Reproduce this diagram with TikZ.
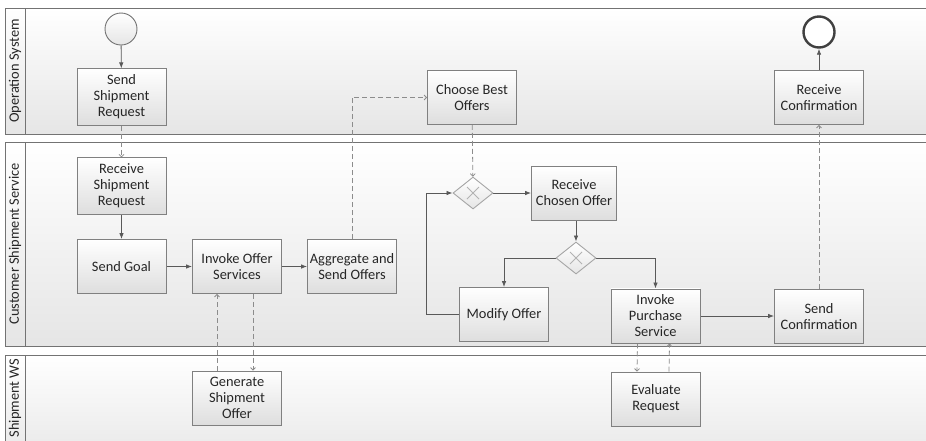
\documentclass[tikz,border=0pt]{standalone}
\usepackage{fontspec}
\setmainfont{Carlito}
\usepackage{tikz}
\pgfdeclarelayer{lanelayer}
\pgfdeclarelayer{nodelayer}
\pgfdeclarelayer{edgelayer}
\pgfsetlayers{lanelayer,edgelayer,nodelayer,main}
\usetikzlibrary{arrows.meta,shapes.geometric}

\tikzset{
	task/.style={draw=black!50, line width=0.8pt, top color=white, bottom color=black!13,
		minimum width=89pt, minimum height=54pt, inner xsep=2pt, inner ysep=6pt,
		align=center, text=black!85, font=\fontsize{14.4}{16}\selectfont},
	gate/.style={diamond, draw=black!35, line width=0.9pt, top color=white, bottom color=black!10,
		minimum width=40pt, minimum height=32pt, inner sep=0pt,
		path picture={\draw[black!30, line width=0.8pt]
			([shift={(-6pt,-6pt)}]path picture bounding box.center) -- ([shift={(6pt,6pt)}]path picture bounding box.center)
			([shift={(-6pt,6pt)}]path picture bounding box.center) -- ([shift={(6pt,-6pt)}]path picture bounding box.center);}},
	flow/.style={-{Latex[length=6pt,width=4.5pt]}, draw=black!65, line width=0.8pt},
	msg/.style={-{Straight Barb[length=2.5pt,width=5pt]}, draw=black!45, line width=0.8pt, dash pattern=on 5pt off 3pt},
	lane/.style={draw=black!55, line width=0.8pt, top color=white, bottom color=black!10},
	lanelabel/.style={rotate=90, text=black!85, font=\fontsize{14.4}{16}\selectfont}
}

\begin{document}
\begin{tikzpicture}[x=1pt, y=-1pt]
	\useasboundingbox (0, 0) rectangle (926, 440);
	\clip (0, 0) rectangle (926, 440);
	\begin{pgfonlayer}{lanelayer}
		\fill [white] (0, 0) rectangle (926, 440);
		\draw [lane] (5, 8) rectangle (940, 134);
		\draw [lane] (5, 142) rectangle (940, 346);
		\draw [lane] (5, 355) rectangle (940, 470);
		\draw [draw=black!55, line width=0.8pt] (25, 8) to (25, 134);
		\draw [draw=black!55, line width=0.8pt] (25, 142) to (25, 346);
		\draw [draw=black!55, line width=0.8pt] (25, 355) to (25, 470);
		\node [lanelabel] (20) at (15, 71) {Operation System};
		\node [lanelabel] (21) at (15, 244) {Customer Shipment Service};
		\node [lanelabel] (22) at (15, 398) {Shipment WS};
	\end{pgfonlayer}
	\begin{pgfonlayer}{nodelayer}
		\node [circle, draw=black!55, line width=0.9pt, top color=white, bottom color=black!10, minimum size=32pt, inner sep=0pt] (0) at (121, 29) {};
		\node [task] (1) at (121.5, 97) {Send\\Shipment\\Request};
		\node [task] (2) at (121.5, 186) {Receive\\Shipment\\Request};
		\node [task] (3) at (121.5, 266.5) {Send Goal};
		\node [task] (4) at (237, 266.5) {Invoke Offer\\Services};
		\node [task] (5) at (352, 266.5) {Aggregate and\\Send Offers};
		\node [task] (6) at (472, 97.5) {Choose Best\\Offers};
		\node [gate] (7) at (473, 193) {};
		\node [task, minimum width=85pt] (8) at (574, 193) {Receive\\Chosen Offer};
		\node [gate] (9) at (576, 258) {};
		\node [task] (10) at (504, 314.5) {Modify Offer};
		\node [task] (11) at (655.5, 316) {Invoke\\Purchase\\Service};
		\node [task] (12) at (819, 316.5) {Send\\Confirmation};
		\node [task] (13) at (819, 97.5) {Receive\\Confirmation};
		\node [circle, draw=black!75, line width=2.4pt, fill=white, minimum size=31pt, inner sep=0pt] (14) at (819, 32) {};
		\node [task] (15) at (237, 398) {Generate\\Shipment\\Offer};
		\node [task] (16) at (656, 399) {Evaluate\\Request};
		\coordinate (17) at (426, 314.5);
	\end{pgfonlayer}
	\begin{pgfonlayer}{edgelayer}
		\draw [flow] (0) to (1);
		\draw [msg] (1) to (2);
		\draw [flow] (2) to (3);
		\draw [flow] (3) to (4);
		\draw [flow] (4) to (5);
		\draw [msg] ([xshift=16pt]4.south) to ([xshift=16pt]15.north);
		\draw [msg] ([xshift=-20pt]15.north) to ([xshift=-20pt]4.south);
		\draw [msg] (5.north) |- (6.west);
		\draw [msg] (6) to (7);
		\draw [flow] (7) to (8);
		\draw [flow] (8.south -| 9.north) to (9.north);
		\draw [flow] (9.west) -| (10.north);
		\draw [flow] (9.east) -| (11.north);
		\draw [flow] (10.west) to (17) |- (7.west);
		\draw [flow] (11.east) to (11.east -| 12.west);
		\draw [msg] (12) to (13);
		\draw [flow] (13) to (14);
		\draw [msg] ([xshift=-18pt]11.south) to ([xshift=-19pt]16.north);
		\draw [msg] ([xshift=13pt]16.north) to ([xshift=14pt]11.south);
	\end{pgfonlayer}
\end{tikzpicture}
\end{document}
